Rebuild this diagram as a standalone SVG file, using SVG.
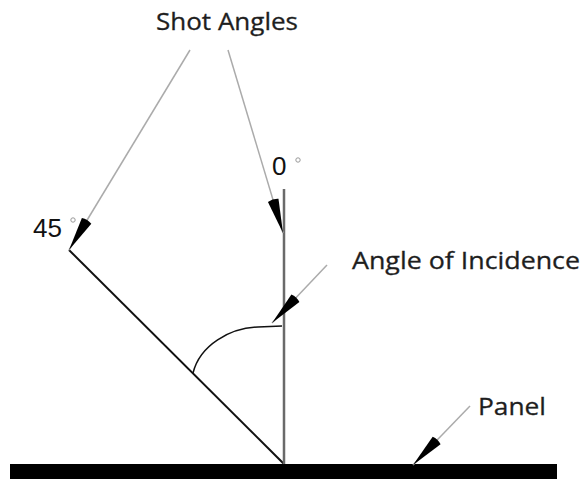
<svg xmlns="http://www.w3.org/2000/svg" width="585" height="479" viewBox="0 0 585 479">
<style>
.lbl{font-family:"Open Sans","Noto Sans",sans-serif;font-size:24px;fill:#1e1e1e;stroke:#1e1e1e;stroke-width:0.3}
.num{font-family:"Liberation Sans",Arial,sans-serif;font-size:26px;fill:#111}
.lead{stroke:#ababab;stroke-width:1.5;fill:none}
.deg{fill:none;stroke:#999;stroke-width:1}
</style>
<defs>
<marker id="wedge" markerUnits="userSpaceOnUse" markerWidth="40" markerHeight="14" viewBox="-36 -7 37 14" refX="0" refY="0" orient="auto">
<path d="M0,0 L-34,-5.5 Q-36,0 -34,5.5 Z" fill="#000"/>
</marker>
</defs>
<g id="panel">
<rect x="10" y="464" width="547" height="20" fill="#000"/>
</g>
<g id="shot-45">
<line x1="69" y1="250" x2="284" y2="464" stroke="#111" stroke-width="2"/>
</g>
<g id="shot-0">
<line x1="284" y1="189" x2="284" y2="464" stroke="#6a6a6a" stroke-width="2.5"/>
</g>
<g id="angle-arc">
<path d="M193,373 C200,345 230,328 258,327 L282,326" fill="none" stroke="#111" stroke-width="1.5"/>
</g>
<g id="connectors">
<line class="lead" x1="190" y1="50" x2="69" y2="250" marker-end="url(#wedge)"/>
<line class="lead" x1="228" y1="50" x2="283" y2="233" marker-end="url(#wedge)"/>
<line class="lead" x1="327" y1="265" x2="272" y2="323" marker-end="url(#wedge)"/>
<line class="lead" x1="470" y1="406" x2="413" y2="465" marker-end="url(#wedge)"/>
</g>
<g id="label-shot-angles">
<text class="lbl" x="156" y="30" textLength="142" lengthAdjust="spacingAndGlyphs">Shot Angles</text>
</g>
<g id="label-45">
<text class="num" x="33" y="237">45</text>
<circle class="deg" cx="73" cy="220" r="2.2"/>
</g>
<g id="label-0">
<text class="num" x="272" y="175">0</text>
<circle class="deg" cx="298" cy="160" r="2.2"/>
</g>
<g id="label-incidence">
<text class="lbl" x="352" y="269" textLength="228" lengthAdjust="spacingAndGlyphs">Angle of Incidence</text>
</g>
<g id="label-panel">
<text class="lbl" x="478" y="415" textLength="68" lengthAdjust="spacingAndGlyphs">Panel</text>
</g>
</svg>
